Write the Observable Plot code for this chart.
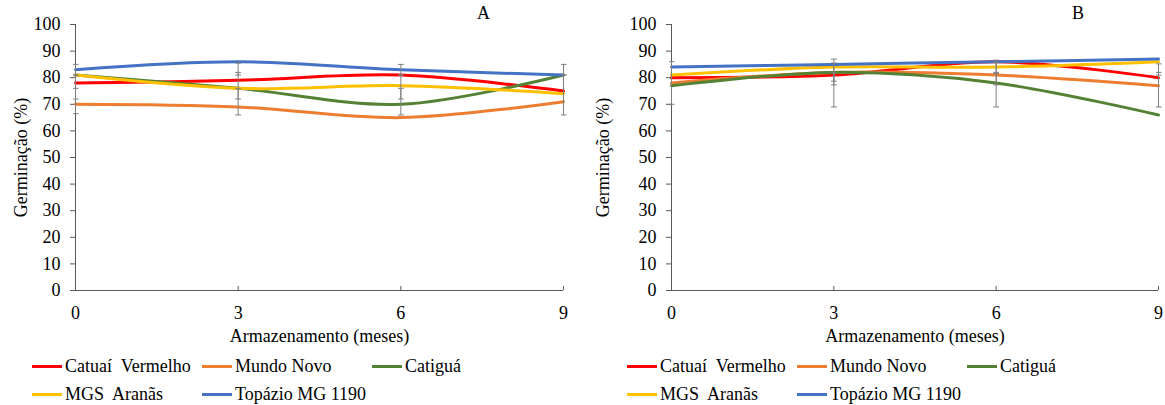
<!DOCTYPE html>
<html><head><meta charset="utf-8">
<script src="https://cdn.jsdelivr.net/npm/d3@7"></script>
<script src="https://cdn.jsdelivr.net/npm/@observablehq/plot@0.6"></script>
<style>
body{margin:0;background:#fff;font-family:"Liberation Serif";color:#000;}
#wrap{display:flex;width:1165px;height:405px;}
.panel{position:relative;height:405px;}
.tag{position:absolute;top:3px;font-size:18px;font-family:"Liberation Serif";}
.item{position:absolute;display:flex;align-items:center;white-space:pre;font-size:18px;height:20px;font-family:"Liberation Serif";}
.sw{display:inline-block;width:30px;height:3px;margin-right:3px;}
svg text{font-family:"Liberation Serif";}
</style></head><body><div id="wrap"></div>
<script>
const months = [0, 3, 6, 9];
const yTicks = [0, 10, 20, 30, 40, 50, 60, 70, 80, 90, 100];
const cultivars = ["Catuaí  Vermelho", "Mundo Novo", "Catiguá", "MGS  Aranãs", "Topázio MG 1190"];
const colors = ["#FF0000", "#ED7D31", "#548235", "#FFC000", "#4472C4"];

// Panel A values (germination %)
const catuaiA = [78, 79, 81, 75];
const mundoA = [70, 69, 65, 71];
const catiguaA = [81, 76, 70, 81];
const arenasA = [81, 76, 77, 74];
const topazioA = [83, 86, 83, 81];
// Panel B values
const catuaiB = [80, 81, 86, 80];
const mundoB = [78, 82, 81, 77];
const catiguaB = [77, 82, 78, 66];
const arenasB = [81, 84, 84, 86];
const topazioB = [84, 85, 86, 87];

// Error bars [month, low, high]
const errorsA = [[0, 81, 85], [0, 72, 76], [0, 66.5, 81], [3, 81, 85.5], [3, 72, 82], [3, 66, 76], [6, 81, 85], [6, 72, 76], [6, 66, 81], [9, 81, 85], [9, 66, 81]];
const errorsB = [[0, 70, 86], [3, 69, 87], [3, 77.3, 85.5], [3, 78.7, 82], [6, 69, 86.6], [6, 82, 85.7], [6, 77.3, 81.6], [9, 69, 85.2], [9, 81, 82]];

function makePanel(series, errs, w, ml, mr, tag, tagX, legX) {
  const data = series.flatMap((vals, i) => vals.map((v, j) => ({month: months[j], value: v, cultivar: cultivars[i]})));
  const errData = errs.map(([m, lo, hi]) => ({month: m, lo, hi}));
  const chart = Plot.plot({
    width: w, height: 350, marginLeft: ml, marginRight: mr, marginTop: 24, marginBottom: 60,
    style: {fontFamily: "Liberation Serif", fontSize: "18px", color: "#000", background: "#fff"},
    x: {domain: [0, 9]},
    y: {domain: [0, 100]},
    color: {domain: cultivars, range: colors},
    marks: [
      Plot.axisY({ticks: yTicks, tickSize: 5, tickPadding: 10, stroke: "#595959", label: "Germinação (%)", labelAnchor: "center", labelOffset: ml - 14, labelArrow: "none"}),
      Plot.axisX({ticks: months, tickSize: -4, tickPadding: 20, stroke: "#595959", label: "Armazenamento (meses)", labelAnchor: "center", labelOffset: 51, labelArrow: "none"}),
      Plot.ruleX([0], {stroke: "#595959"}),
      Plot.ruleY([0], {stroke: "#595959"}),
      Plot.line(data, {x: "month", y: "value", z: "cultivar", stroke: "cultivar", curve: "catmull-rom", strokeWidth: 3}),
      Plot.link(errData, {x1: "month", x2: "month", y1: "lo", y2: "hi", stroke: "#7F7F7F", strokeWidth: 1, markerStart: "tick", markerEnd: "tick"})
    ]
  });
  const div = document.createElement("div");
  div.className = "panel";
  div.style.width = w + "px";
  div.appendChild(chart);
  const t = document.createElement("div");
  t.className = "tag"; t.textContent = tag; t.style.left = tagX + "px";
  div.appendChild(t);
  const pos = [[0, 0], [1, 0], [2, 0], [0, 1], [1, 1]];
  cultivars.forEach((c, i) => {
    const it = document.createElement("div");
    it.className = "item";
    it.style.left = (legX + pos[i][0] * 170) + "px";
    it.style.top = (356 + pos[i][1] * 28) + "px";
    it.innerHTML = `<span class="sw" style="background:${colors[i]}"></span>`;
    it.appendChild(document.createTextNode(c));
    div.appendChild(it);
  });
  return div;
}
const wrap = document.getElementById("wrap");
wrap.appendChild(makePanel([catuaiA, mundoA, catiguaA, arenasA, topazioA], errorsA, 582, 75, 19, "A", 477, 32));
wrap.appendChild(makePanel([catuaiB, mundoB, catiguaB, arenasB, topazioB], errorsB, 583, 89, 7, "B", 490, 45));
</script></body></html>
